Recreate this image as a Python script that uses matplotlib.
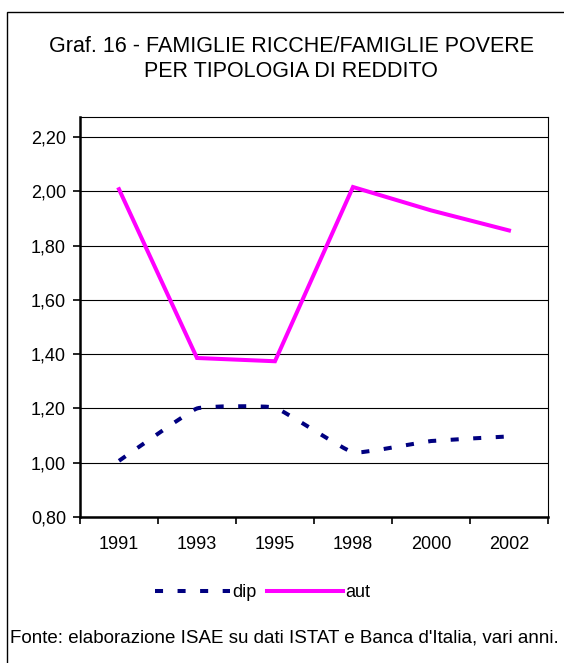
import numpy as np
import matplotlib.pyplot as plt
from matplotlib.path import Path
from matplotlib.patches import PathPatch, Rectangle
from matplotlib.lines import Line2D

plt.rcParams['font.family'] = ['Liberation Sans', 'DejaVu Sans']

# dati
anni = ["1991", "1993", "1995", "1998", "2000", "2002"]
dip = [1.007, 1.200, 1.203, 1.038, 1.080, 1.097]
aut = [2.008, 1.386, 1.374, 2.016, 1.930, 1.856]
yticks = [0.80, 1.00, 1.20, 1.40, 1.60, 1.80, 2.00, 2.20]

fig = plt.figure(figsize=(5.64, 6.63), dpi=100)

# cornice esterna
fig.patches.append(Rectangle((0.0124, -0.05), 1.2, 1.032, transform=fig.transFigure,
                             fill=False, edgecolor='black', linewidth=1.0))

ax = fig.add_axes([0.1418, 0.2202, 0.8298, 0.6033])
x = np.arange(len(anni))

# linea "dip" leggermente smussata (bezier)
k = 1 / 20
pts = list(zip(x, dip))
verts = [pts[0]]
codes = [Path.MOVETO]
for i in range(len(pts) - 1):
    p0 = np.array(pts[i - 1] if i > 0 else pts[i])
    p1 = np.array(pts[i])
    p2 = np.array(pts[i + 1])
    p3 = np.array(pts[i + 2] if i + 2 < len(pts) else pts[i + 1])
    c1 = p1 + (p2 - p0) * k
    c2 = p2 - (p3 - p1) * k
    verts += [tuple(c1), tuple(c2), tuple(p2)]
    codes += [Path.CURVE4] * 3
patch = PathPatch(Path(verts, codes), fill=False, edgecolor='#000080', linewidth=2.9,
                  linestyle=(0, (2.0, 3.6)), capstyle='butt', zorder=3)
ax.add_patch(patch)

ax.plot(x, aut, color='#ff00ff', linewidth=2.9, solid_joinstyle='miter', zorder=3)

ax.set_xlim(-0.5, len(anni) - 0.5)
ax.set_ylim(0.80, 2.274)
ax.set_yticks(yticks)
ax.set_yticklabels([f"{v:.2f}".replace('.', ',') for v in yticks], fontsize=13)
ax.set_xticks(x)
ax.set_xticklabels(anni, fontsize=13)
ax.set_xticks(np.arange(-0.5, len(anni)), minor=True)
ax.tick_params(axis='x', which='major', length=0, pad=14)
ax.tick_params(axis='x', which='minor', length=5, width=1.2, direction='out')
ax.tick_params(axis='y', length=5, width=1.2, direction='out', pad=5)

ax.grid(axis='y', color='black', linewidth=0.8)
ax.set_axisbelow(True)
for s in ['top', 'right']:
    ax.spines[s].set_linewidth(0.8)
for s in ['left', 'bottom']:
    ax.spines[s].set_linewidth(1.8)

fig.text(0.516, 0.911, "Graf. 16 - FAMIGLIE RICCHE/FAMIGLIE POVERE\nPER TIPOLOGIA DI REDDITO",
         ha='center', va='center', fontsize=15.5, linespacing=1.22)

h_dip = Line2D([], [], color='#000080', linewidth=2.9, linestyle=(0, (2.0, 3.6)),
               dash_capstyle='butt')
h_aut = Line2D([], [], color='#ff00ff', linewidth=2.9)
fig.legend([h_dip, h_aut], ["dip", "aut"], loc='center', bbox_to_anchor=(0.465, 0.106),
           ncol=2, frameon=False, fontsize=13, handlelength=4.2, handletextpad=0.1,
           columnspacing=0.6)

fig.text(0.0177, 0.038, "Fonte: elaborazione ISAE su dati ISTAT e Banca d'Italia, vari anni.",
         ha='left', va='center', fontsize=13.5)

fig.savefig("out.png", dpi=100)
